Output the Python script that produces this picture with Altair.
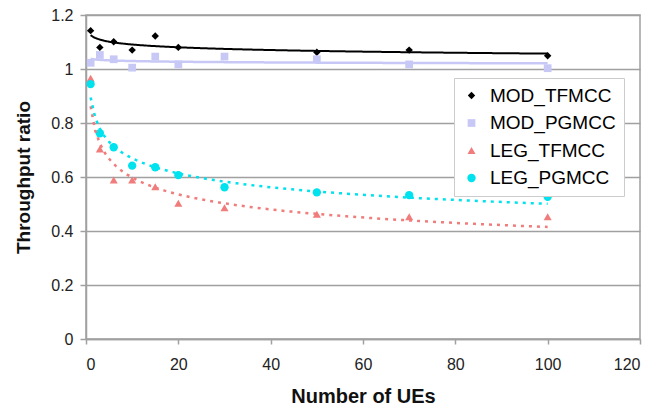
import altair as alt
import pandas as pd

series_names = ["MOD_TFMCC", "MOD_PGMCC", "LEG_TFMCC", "LEG_PGMCC"]

mod_tfmcc_x = [1, 3, 6, 10, 15, 20, 50, 70, 100]
mod_tfmcc_y = [1.142, 1.080, 1.101, 1.070, 1.122, 1.080, 1.062, 1.070, 1.049]

mod_pgmcc_x = [1, 3, 6, 10, 15, 20, 30, 50, 70, 100]
mod_pgmcc_y = [1.023, 1.052, 1.036, 1.005, 1.046, 1.017, 1.046, 1.036, 1.017, 1.003]

leg_tfmcc_x = [1, 3, 6, 10, 15, 20, 30, 50, 70, 100]
leg_tfmcc_y = [0.966, 0.704, 0.589, 0.589, 0.564, 0.503, 0.486, 0.462, 0.453, 0.453]

leg_pgmcc_x = [1, 3, 6, 10, 15, 20, 30, 50, 70, 100]
leg_pgmcc_y = [0.944, 0.762, 0.710, 0.642, 0.636, 0.607, 0.562, 0.543, 0.533, 0.527]

x_ticks = [0, 20, 40, 60, 80, 100, 120]
y_ticks = [0, 0.2, 0.4, 0.6, 0.8, 1.0, 1.2]

colors = ["#000000", "#C8C8F6", "#F07C7C", "#00E2EE"]
shapes = ["diamond", "square", "triangle-up", "circle"]
sizes = [55, 70, 100, 90]
trend_dash = [[1, 0], [1, 0], [3, 5], [3, 5]]
trend_width = [2, 2.5, 2.5, 2.5]

rows = []
for name, xs, ys in zip(series_names,
                        [mod_tfmcc_x, mod_pgmcc_x, leg_tfmcc_x, leg_pgmcc_x],
                        [mod_tfmcc_y, mod_pgmcc_y, leg_tfmcc_y, leg_pgmcc_y]):
    for xv, yv in zip(xs, ys):
        rows.append({"series": name, "ues": xv, "ratio": yv})
df = pd.DataFrame(rows)

FONT = "Liberation Sans"
GRAY = "#a0a0a0"

x_scale = alt.Scale(domain=[0, 120], nice=False, zero=False)
y_scale = alt.Scale(domain=[0, 1.2], nice=False)

legend = alt.Legend(
    orient="none", legendX=368, legendY=63, title=None,
    labelFontSize=19, labelFont=FONT, labelColor="#000000",
    symbolSize=45, symbolStrokeWidth=0, symbolOffset=0, labelOffset=9,
    padding=8, rowPadding=7.5, fillColor="white", strokeColor="#cccccc",
)

base = alt.Chart(df)

points = base.mark_point(filled=True, opacity=1).encode(
    x=alt.X("ues:Q", scale=x_scale, axis=alt.Axis(
        values=x_ticks, title="Number of UEs", grid=False,
        labelFontSize=16, labelPadding=12, tickSize=5,
        titleFontSize=20, titlePadding=14)),
    y=alt.Y("ratio:Q", scale=y_scale, axis=alt.Axis(
        values=y_ticks, format="~g", title="Throughput ratio", grid=True,
        labelFontSize=16, labelPadding=7, tickSize=6,
        titleFontSize=19, titlePadding=17)),
    color=alt.Color("series:N", scale=alt.Scale(domain=series_names, range=colors), legend=legend),
    shape=alt.Shape("series:N", scale=alt.Scale(domain=series_names, range=shapes), legend=legend),
    size=alt.Size("series:N", scale=alt.Scale(domain=series_names, range=sizes), legend=None),
)

trends = []
for name, col, dash, sw in zip(series_names, colors, trend_dash, trend_width):
    trends.append(
        base.transform_filter(alt.datum.series == name)
        .transform_regression("ues", "ratio", method="pow", extent=[1, 100])
        .mark_line(color=col, strokeDash=dash, strokeWidth=sw)
        .encode(x=alt.X("ues:Q", scale=x_scale), y=alt.Y("ratio:Q", scale=y_scale))
    )

chart = alt.layer(points, *trends).properties(
    width=554, height=324,
    autosize=alt.AutoSizeParams(type="none"),
    padding={"left": 78, "top": 7, "right": 8, "bottom": 72},
).configure_axis(
    labelFont=FONT, titleFont=FONT, labelColor="#222222", titleColor="#111111",
    titleFontWeight="bold", domainColor=GRAY, tickColor=GRAY, gridColor=GRAY,
    gridWidth=1.5, domainWidth=1.5, tickWidth=1.5,
).configure_view(stroke=GRAY, strokeWidth=1.5)

chart.save("out.html", embed_options={"renderer": "svg", "actions": False})
